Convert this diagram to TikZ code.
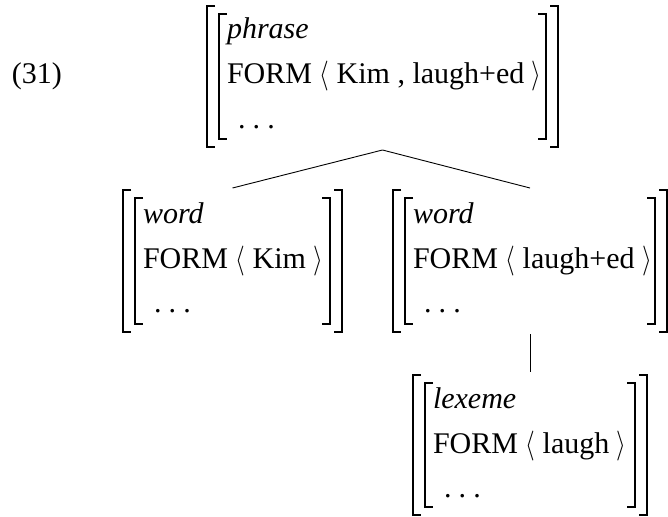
\documentclass[tikz,border=0pt]{standalone}
\usepackage{fontspec}
\setmainfont{Liberation Serif}
\usetikzlibrary{fit}

\tikzset{
  avm/.style={draw=none, rectangle, inner sep=0pt, outer sep=0pt},
  brk/.style={line width=1.7pt, line join=miter},
  branch/.style={line width=0.9pt},
  row/.style={anchor=base west, inner sep=0pt, outer sep=0pt,
              font=\fontsize{30}{36}\selectfont},
}

% angle brackets of a list value, a little taller than the text
\newcommand\lang{\scalebox{1}[1.2]{$\langle$}}
\newcommand\rang{\scalebox{1}[1.2]{$\rangle$}}

% double square brackets around an attribute-value matrix node
\newcommand\avmbrackets[1]{%
  \draw[brk] ([xshift=8pt]#1.north west) -- (#1.north west)
             -- (#1.south west) -- ([xshift=8pt]#1.south west);
  \draw[brk] ([xshift=-8pt]#1.north east) -- (#1.north east)
             -- (#1.south east) -- ([xshift=-8pt]#1.south east);
  \draw[brk] ([xshift=20pt,yshift=-8pt]#1.north west)
             -- ([xshift=12pt,yshift=-8pt]#1.north west)
             -- ([xshift=12pt,yshift=8pt]#1.south west)
             -- ([xshift=20pt,yshift=8pt]#1.south west);
  \draw[brk] ([xshift=-20pt,yshift=-8pt]#1.north east)
             -- ([xshift=-12pt,yshift=-8pt]#1.north east)
             -- ([xshift=-12pt,yshift=8pt]#1.south east)
             -- ([xshift=-20pt,yshift=8pt]#1.south east);
}

% the three rows of a matrix: type, FORM value, ellipsis
\newcommand\avmrows[3]{%
  \node[row] (#1-type) at ([xshift=20pt,yshift=-33pt]#1.north west) {\itshape #2};
  \node[row] (#1-form) at ([xshift=20pt,yshift=-78pt]#1.north west) {#3};
  \node[row] (#1-rest) at ([xshift=31pt,yshift=-122pt]#1.north west)
        {.\kern0.24em.\kern0.24em.};
}

\begin{document}
\begin{tikzpicture}[x=1pt, y=-1pt]
  \useasboundingbox (0,0) rectangle (668,516);

  % example number
  \node[row] (num) at (12,84) {(31)};

  % matrices
  \node[avm, fit={(207,6) (558,147)}] (top) {};
  \node[avm, fit={(123,190) (342,332)}] (wl) {};
  \node[avm, fit={(393,190) (667,332)}] (wr) {};
  \node[avm, fit={(413,375) (647,515)}] (lx) {};

  \avmbrackets{top}
  \avmbrackets{wl}
  \avmbrackets{wr}
  \avmbrackets{lx}

  \avmrows{top}{phrase}{FORM \lang{} Kim , laugh+ed \rang}
  \avmrows{wl}{word}{FORM \lang{} Kim \rang}
  \avmrows{wr}{word}{FORM \lang{} laugh+ed \rang}
  \avmrows{lx}{lexeme}{FORM \lang{} laugh \rang}

  % tree branches
  \draw[branch] ([yshift=-3pt]top.south) -- ([yshift=2pt]wl.north);
  \draw[branch] ([yshift=-3pt]top.south) -- ([yshift=2pt]wr.north);
  \draw[branch] ([yshift=-2pt]wr.south) -- ([yshift=3pt]lx.north);
\end{tikzpicture}
\end{document}
